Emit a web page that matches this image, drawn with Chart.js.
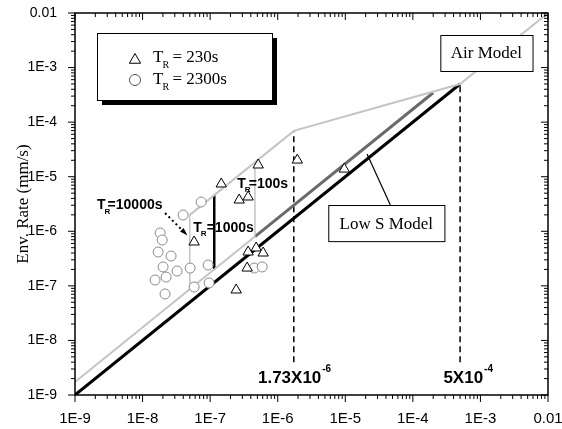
<!DOCTYPE html>
<html>
<head>
<meta charset="utf-8">
<script src="https://cdn.jsdelivr.net/npm/chart.js@4.4.0/dist/chart.umd.min.js"></script>
<style>
html, body { margin: 0; padding: 0; background: #fff; }
</style>
</head>
<body>
<canvas id="envChart" width="562" height="429"></canvas>
<script>
// decade ticks on both axes
const decadeTicks = [1e-9, 1e-8, 1e-7, 1e-6, 1e-5, 1e-4, 1e-3, 1e-2];
const tickLabels = ['1E-9', '1E-8', '1E-7', '1E-6', '1E-5', '1E-4', '1E-3', '0.01'];

// T_R = 230s (triangles)
const triX = [5.14e-7, 1.46e-7, 2.69e-7, 3.65e-7, 5.79e-8, 3.65e-7, 4.80e-7, 6.09e-7, 3.53e-7, 2.43e-7, 1.95e-6, 9.66e-6];
const triY = [1.64e-5, 7.36e-6, 3.74e-6, 4.25e-6, 6.37e-7, 4.17e-7, 4.94e-7, 4.0e-7, 2.12e-7, 8.4e-8, 2.02e-5, 1.38e-5];

// T_R = 2300s (circles)
const circX = [7.36e-8, 3.98e-8, 1.82e-8, 1.95e-8, 1.70e-8, 2.64e-8, 2.01e-8, 3.24e-8, 5.06e-8, 9.33e-8, 1.53e-8, 2.23e-8, 5.79e-8, 9.66e-8, 2.15e-8, 4.49e-7, 5.89e-7];
const circY = [3.44e-6, 1.99e-6, 9.31e-7, 6.92e-7, 4.17e-7, 3.52e-7, 2.22e-7, 1.87e-7, 2.12e-7, 2.41e-7, 1.28e-7, 1.45e-7, 9.52e-8, 1.13e-7, 7.1e-8, 2.12e-7, 2.22e-7];

// model lines
const lowSX = [1e-9, 5e-4];
const lowSY = [1e-9, 5e-4];
const airLowX = [1e-9, 4.6e-7];
const airLowY = [1.73e-9, 8.0e-7];
const darkX = [4.6e-7, 2e-4];
const darkY = [8.0e-7, 3.46e-4];
const airUpX = [5e-8, 1.73e-6, 5e-4, 1e-2];
const airUpY = [2e-6, 6.92e-5, 5e-4, 1e-2];

// T_R bars
const tr10000X = [5e-8, 5e-8];
const tr10000Y = [8.65e-8, 2e-6];
const tr1000X = [1.15e-7, 1.15e-7];
const tr1000Y = [2e-7, 4.6e-6];
const tr100X = [4.6e-7, 4.6e-7];
const tr100Y = [8.0e-7, 1.84e-5];

// dashed markers
const dash1X = [1.73e-6, 1.73e-6];
const dash1Y = [4e-9, 6.92e-5];
const dash2X = [5e-4, 5e-4];
const dash2Y = [4e-9, 5e-4];

// dotted arrow to T_R=10000s bar
const arrowX = [2.15e-8, 4.4e-8];
const arrowY = [2.16e-6, 8.9e-7];

const seg = (xs, ys) => xs.map((x, i) => ({x: x, y: ys[i]}));

const lineSet = (xs, ys, color, width, dash) => ({
    type: 'line',
    data: seg(xs, ys),
    borderColor: color,
    borderWidth: width,
    borderDash: dash || [],
    pointRadius: 0,
    fill: false,
    showLine: true,
    order: 5
});

const SANS = '"Liberation Sans", Arial, sans-serif';
const SERIF = '"Liberation Serif", "Times New Roman", serif';

// T with subscript R, then rest of text
function drawTR(ctx, x, y, rest, size, bold, family, gap) {
    const w = bold ? 'bold ' : '';
    ctx.textBaseline = 'middle';
    ctx.textAlign = 'left';
    ctx.font = w + size + 'px ' + family;
    ctx.fillText('T', x, y);
    const tw = ctx.measureText('T').width;
    ctx.font = w + Math.round(size * 0.6) + 'px ' + family;
    ctx.fillText('R', x + tw - 1, y + size * 0.45);
    ctx.font = w + size + 'px ' + family;
    ctx.fillText(rest, x + tw + gap, y);
}

function drawPow(ctx, x, y, base, exp) {
    ctx.textBaseline = 'middle';
    ctx.textAlign = 'left';
    ctx.font = 'bold 17px ' + SANS;
    ctx.fillText(base, x, y);
    const bw = ctx.measureText(base).width;
    ctx.font = 'bold 10px ' + SANS;
    ctx.fillText(exp, x + bw + 1, y - 9);
}

function textBox(ctx, x0, y0, x1, y1, text) {
    ctx.fillStyle = '#fff';
    ctx.fillRect(x0, y0, x1 - x0, y1 - y0);
    ctx.strokeStyle = '#000';
    ctx.lineWidth = 1;
    ctx.strokeRect(x0 + 0.5, y0 + 0.5, x1 - x0, y1 - y0);
    ctx.fillStyle = '#000';
    ctx.font = '17px ' + SERIF;
    ctx.textAlign = 'center';
    ctx.textBaseline = 'middle';
    ctx.fillText(text, (x0 + x1) / 2, (y0 + y1) / 2 + 1);
}

const decor = {
    id: 'decor',
    afterDraw(chart) {
        const ctx = chart.ctx;
        const a = chart.chartArea;
        const xs = chart.scales.x, ys = chart.scales.y;
        const X = v => xs.getPixelForValue(v);
        const Y = v => ys.getPixelForValue(v);
        ctx.save();

        // frame
        ctx.strokeStyle = '#000';
        ctx.lineWidth = 1.5;
        ctx.strokeRect(a.left, a.top, a.right - a.left, a.bottom - a.top);

        // ticks: out on left/bottom, in on top/right
        ctx.lineWidth = 1;
        for (let e = -9; e < -2; e++) {
            for (let m = 1; m <= 10; m++) {
                if (m === 10 && e !== -3) continue;
                const v = m * Math.pow(10, e);
                const len = (m === 1 || m === 10) ? 7 : 4;
                const px = X(v), py = Y(v);
                ctx.beginPath();
                ctx.moveTo(px, a.bottom); ctx.lineTo(px, a.bottom + len);
                ctx.moveTo(px, a.top); ctx.lineTo(px, a.top + len);
                ctx.moveTo(a.left, py); ctx.lineTo(a.left - len, py);
                ctx.moveTo(a.right, py); ctx.lineTo(a.right - len, py);
                ctx.stroke();
            }
        }

        // arrowhead of dotted arrow
        const ax0 = X(arrowX[0]), ay0 = Y(arrowY[0]);
        const ax1 = X(arrowX[1]), ay1 = Y(arrowY[1]);
        const ang = Math.atan2(ay1 - ay0, ax1 - ax0);
        ctx.fillStyle = '#000';
        ctx.beginPath();
        ctx.moveTo(ax1 + 2 * Math.cos(ang), ay1 + 2 * Math.sin(ang));
        ctx.lineTo(ax1 - 6 * Math.cos(ang) + 2.5 * Math.sin(ang), ay1 - 6 * Math.sin(ang) - 2.5 * Math.cos(ang));
        ctx.lineTo(ax1 - 6 * Math.cos(ang) - 2.5 * Math.sin(ang), ay1 - 6 * Math.sin(ang) + 2.5 * Math.cos(ang));
        ctx.closePath();
        ctx.fill();

        // T_R labels
        ctx.fillStyle = '#000';
        drawTR(ctx, X(2.12e-9), Y(3.03e-6), '=10000s', 14, true, SANS, 2);
        drawTR(ctx, X(5.6e-8), Y(1.15e-6), '=1000s', 14, true, SANS, 5);
        drawTR(ctx, X(2.51e-7), Y(7.36e-6), '=100s', 14, true, SANS, 3);

        // vertical marker values
        drawPow(ctx, X(5.1e-7), Y(2.05e-9), '1.73X10', '-6');
        drawPow(ctx, X(2.83e-4), Y(2.05e-9), '5X10', '-4');

        // Low S pointer and boxes
        ctx.strokeStyle = '#000';
        ctx.lineWidth = 1.2;
        ctx.beginPath();
        ctx.moveTo(X(4.64e-5), Y(3.03e-6));
        ctx.lineTo(X(2.1e-5), Y(2.6e-5));
        ctx.stroke();
        textBox(ctx, X(5.6e-6), Y(3.03e-6), X(2.93e-4), Y(6.6e-7), 'Low S Model');
        textBox(ctx, X(2.55e-4), Y(3.95e-3), X(5.9e-3), Y(8.65e-4), 'Air Model');

        // legend with shadow
        const lx = a.left + 22, ly = a.top + 20, lw = 175, lh = 67;
        ctx.fillStyle = '#000';
        ctx.fillRect(lx + 5, ly + 5, lw, lh);
        ctx.fillStyle = '#fff';
        ctx.fillRect(lx, ly, lw, lh);
        ctx.lineWidth = 1;
        ctx.strokeRect(lx + 0.5, ly + 0.5, lw, lh);
        ctx.strokeStyle = '#000';
        Chart.helpers.drawPoint(ctx, {pointStyle: 'triangle', radius: 6.5, borderWidth: 1}, lx + 38, ly + 27);
        ctx.strokeStyle = '#555';
        Chart.helpers.drawPoint(ctx, {pointStyle: 'circle', radius: 5.5, borderWidth: 1}, lx + 38, ly + 47);
        ctx.fillStyle = '#000';
        drawTR(ctx, lx + 56, ly + 25, '= 230s', 17, false, SERIF, 9);
        drawTR(ctx, lx + 56, ly + 47, '= 2300s', 17, false, SERIF, 9);

        ctx.restore();
    }
};

const chart = new Chart(document.getElementById('envChart'), {
    type: 'scatter',
    data: {
        datasets: [
            {
                label: 'T_R = 230s',
                data: seg(triX, triY),
                pointStyle: 'triangle',
                pointRadius: 6,
                borderColor: '#000',
                backgroundColor: '#fff',
                borderWidth: 1,
                order: 1
            },
            {
                label: 'T_R = 2300s',
                data: seg(circX, circY),
                pointStyle: 'circle',
                pointRadius: 5,
                borderColor: '#8a8a8a',
                backgroundColor: '#fff',
                borderWidth: 1,
                order: 2
            },
            lineSet(airUpX, airUpY, '#c4c4c4', 2),
            lineSet(airLowX, airLowY, '#c4c4c4', 2),
            lineSet(tr10000X, tr10000Y, '#c4c4c4', 1.5),
            lineSet(tr100X, tr100Y, '#c4c4c4', 1.5),
            lineSet(tr1000X, tr1000Y, '#000', 2.5),
            lineSet(darkX, darkY, '#6a6a6a', 3),
            lineSet(lowSX, lowSY, '#000', 3),
            lineSet(dash1X, dash1Y, '#000', 1.5, [6, 4]),
            lineSet(dash2X, dash2Y, '#000', 1.5, [6, 4]),
            lineSet(arrowX, arrowY, '#000', 2, [2, 3])
        ]
    },
    options: {
        responsive: false,
        animation: false,
        events: [],
        layout: { padding: { top: 13, right: 14, left: 0, bottom: 0 } },
        plugins: { legend: { display: false }, tooltip: { enabled: false } },
        scales: {
            x: {
                type: 'logarithmic',
                min: 1e-9,
                max: 1e-2,
                grid: { display: false },
                border: { display: false },
                afterBuildTicks: s => { s.ticks = decadeTicks.map(v => ({value: v})); },
                afterFit: s => { s.height = 34; s.paddingLeft = 0; s.paddingRight = 0; },
                ticks: {
                    autoSkip: false,
                    maxRotation: 0,
                    padding: 7,
                    color: '#000',
                    font: { family: SANS, size: 15 },
                    callback: (v, i) => tickLabels[i]
                }
            },
            y: {
                type: 'logarithmic',
                min: 1e-9,
                max: 1e-2,
                grid: { display: false },
                border: { display: false },
                afterBuildTicks: s => { s.ticks = decadeTicks.map(v => ({value: v})); },
                afterFit: s => { s.width = 75; s.paddingTop = 0; s.paddingBottom = 0; },
                title: {
                    display: true,
                    text: 'Env. Rate (mm/s)',
                    color: '#000',
                    font: { family: SERIF, size: 17 },
                    padding: { top: 13, bottom: 0 }
                },
                ticks: {
                    autoSkip: false,
                    padding: 10,
                    color: '#000',
                    font: { family: SANS, size: 14 },
                    callback: (v, i) => tickLabels[i]
                }
            }
        }
    },
    plugins: [decor]
});
</script>
</body>
</html>
